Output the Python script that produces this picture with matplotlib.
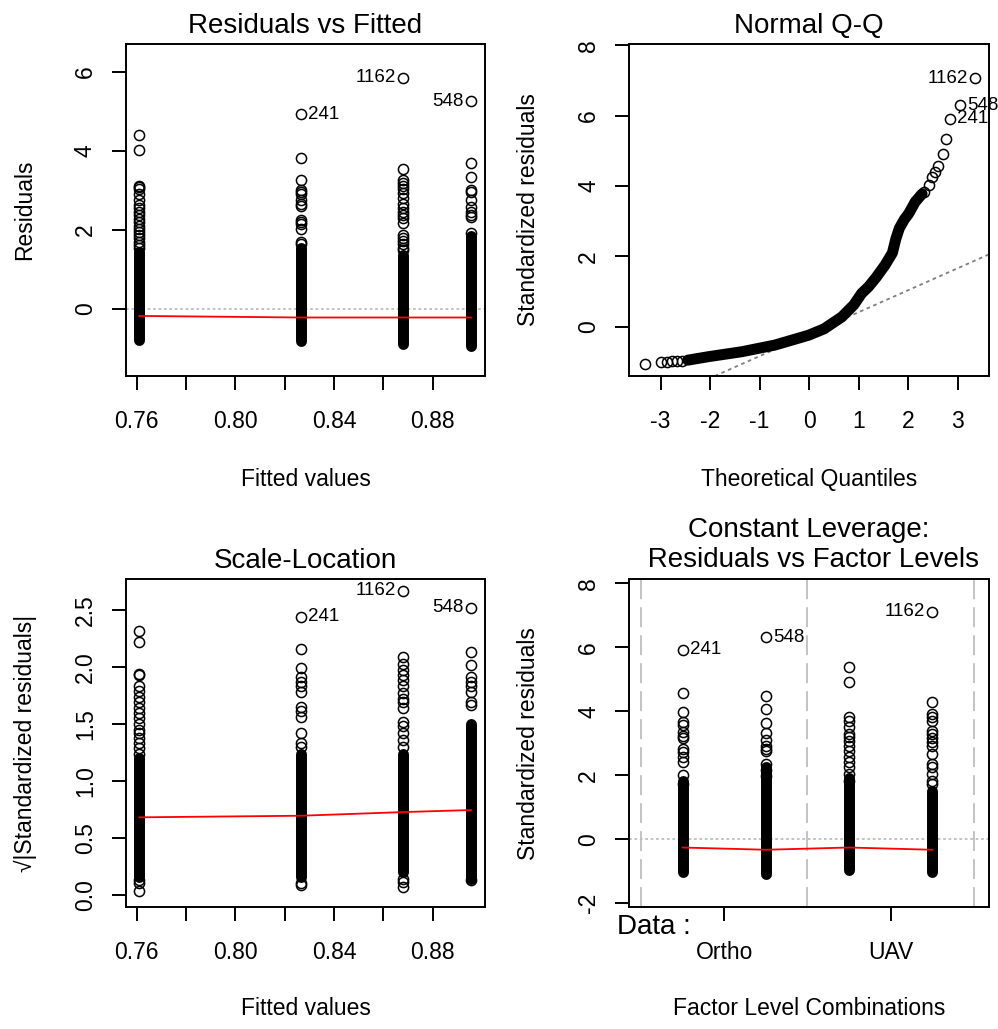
import matplotlib.pyplot as plt

plt.rcParams['font.family'] = ['Liberation Sans', 'DejaVu Sans']
plt.rcParams['axes.unicode_minus'] = False

# ---- data ----
fitted_levels = [0.7611, 0.8265, 0.8680, 0.8955]
fitted_ticks = [0.76, 0.78, 0.80, 0.82, 0.84, 0.86, 0.88]
fitted_labels = ['0.76', '', '0.80', '', '0.84', '', '0.88']

id_names = ['241', '1162', '548']

# Residuals vs Fitted
resid_lo = [-0.78, -0.82, -0.88, -0.95]
resid_hi = [1.45, 1.55, 1.35, 1.85]
resid_tail = [
    [4.41, 4.03, 3.11, 3.07, 3.04, 2.90, 2.75, 2.62, 2.55, 2.45, 2.38, 2.28, 2.20,
     2.10, 2.03, 1.95, 1.87, 1.78, 1.70, 1.62, 1.55],
    [3.81, 3.26, 3.00, 2.95, 2.90, 2.75, 2.65, 2.60, 2.25, 2.20, 2.15, 2.03, 1.70, 1.65],
    [3.54, 3.26, 3.18, 3.10, 3.02, 2.92, 2.80, 2.65, 2.55, 2.45, 2.38, 2.30, 2.16,
     1.86, 1.80, 1.72, 1.65, 1.53, 1.48],
    [3.70, 3.34, 3.00, 2.96, 2.75, 2.57, 2.45, 2.37, 2.32, 1.91],
]
resid_smooth = [-0.18, -0.22, -0.22, -0.22]
resid_id_group = [1, 2, 3]
resid_id = [4.92, 5.85, 5.25]
resid_id_side = ['right', 'left', 'left']

# Normal Q-Q
qq_band_x = [-2.45, -2.03, -1.36, -0.69, -0.01, 0.30, 0.66, 0.90, 1.06, 1.20, 1.35,
             1.53, 1.68, 1.75, 1.82, 1.92, 2.01, 2.14, 2.28]
qq_band_y = [-0.95, -0.85, -0.71, -0.52, -0.24, -0.06, 0.28, 0.62, 0.95, 1.14, 1.40,
             1.75, 2.10, 2.50, 2.80, 3.05, 3.22, 3.55, 3.78]
qq_tail_x = [-3.31, -3.00, -2.87, -2.77, -2.67, -2.57, 2.31, 2.41, 2.48, 2.54, 2.61, 2.71, 2.76]
qq_tail_y = [-1.06, -1.01, -0.99, -0.98, -0.97, -0.96, 3.84, 4.03, 4.26, 4.40, 4.57, 4.90, 5.35]
qq_id_x = [2.85, 3.35, 3.05]
qq_id_y = [5.92, 7.06, 6.30]
qq_id_side = ['right', 'left', 'right']
qq_line_intercept = -0.21
qq_line_slope = 0.625

# Scale-Location
sl_lo = [0.16, 0.16, 0.20, 0.14]
sl_hi = [1.20, 1.24, 1.24, 1.50]
sl_tail = [
    [2.32, 2.22, 1.94, 1.93, 1.83, 1.79, 1.74, 1.69, 1.64, 1.60, 1.55, 1.50, 1.45,
     1.42, 1.38, 1.33, 1.29, 1.24, 0.13, 0.10, 0.035],
    [2.16, 1.99, 1.91, 1.87, 1.83, 1.78, 1.65, 1.61, 1.56, 1.42, 1.33, 1.30, 0.10, 0.09],
    [2.09, 2.03, 1.97, 1.93, 1.89, 1.83, 1.77, 1.72, 1.69, 1.64, 1.52, 1.48, 1.42,
     1.36, 1.30, 0.14, 0.11, 0.07],
    [2.13, 2.02, 1.91, 1.87, 1.83, 1.78, 1.69, 1.67, 0.13],
]
sl_smooth = [0.680, 0.694, 0.726, 0.744]
sl_id = [2.44, 2.67, 2.52]

# Constant leverage: residuals vs factor levels
lev_pos = [1, 2, 3, 4]
lev_bounds = [0.5, 2.5, 4.5]
lev_ticks = [1.5, 3.5]
lev_labels = ['Ortho', 'UAV']
lev_lo = [-1.03, -1.08, -0.96, -1.03]
lev_hi = [1.83, 2.25, 1.90, 1.52]
lev_tail = [
    [4.58, 3.98, 3.66, 3.58, 3.34, 3.24, 3.17, 2.82, 2.72, 2.56, 2.41, 2.02, 1.73],
    [4.47, 4.08, 3.64, 3.32, 3.10, 2.93, 2.82, 2.77, 2.35, 2.15, 1.99],
    [5.38, 4.92, 3.81, 3.71, 3.50, 3.29, 3.19, 3.08, 2.93, 2.77, 2.56, 2.41, 2.25,
     2.04, 1.83],
    [4.29, 3.92, 3.83, 3.71, 3.40, 3.29, 3.17, 3.03, 2.93, 2.67, 2.35, 2.25, 2.04,
     1.83, 1.73],
]
lev_smooth = [-0.26, -0.33, -0.26, -0.33]
lev_id_group = [0, 3, 1]
lev_id = [5.93, 7.11, 6.31]
lev_id_side = ['right', 'left', 'right']

# ---- styling ----
W, H = 998, 1029
TICK_FS = 16.5
TITLE_FS = 20
ID_FS = 13.5
LW = 1.4
DENSE_LW = 7.9
MS = 7.3

fig = plt.figure(figsize=(W / 100, H / 100), dpi=100)


def make_axes(l, t, r, b):
    ax = fig.add_axes([l / W, 1 - b / H, (r - l) / W, (b - t) / H])
    for s in ax.spines.values():
        s.set_linewidth(LW)
    ax.tick_params(length=10, width=LW, labelsize=TICK_FS, direction='out')
    ax.tick_params(axis='x', pad=14.5)
    ax.tick_params(axis='y', pad=11)
    return ax


def columns(ax, xs, lo, hi, tails):
    for x, a, b, tail in zip(xs, lo, hi, tails):
        ax.plot([x, x], [a, b], color='black', lw=DENSE_LW, solid_capstyle='round')
        ax.plot([x] * len(tail), tail, 'o', mfc='none', mec='black', ms=MS, mew=1.1)


def ids(ax, xs, ys, names, sides):
    for x, y, n, s in zip(xs, ys, names, sides):
        ax.plot(x, y, 'o', mfc='none', mec='black', ms=MS, mew=1.1)
        dx = 5 if s == 'right' else -5
        ax.annotate(n, (x, y), xytext=(dx, 0), textcoords='offset points',
                    ha='left' if s == 'right' else 'right', va='center', fontsize=ID_FS)


def labels(ax, title, xlabel, ylabel, xl_y, pad=7.7):
    ax.set_title(title, fontsize=TITLE_FS, pad=pad)
    ax.set_xlabel(xlabel, fontsize=TICK_FS, va='center')
    ax.set_ylabel(ylabel, fontsize=TICK_FS, va='center')
    ax.xaxis.set_label_coords(0.5, xl_y)
    ax.yaxis.set_label_coords(-0.281, 0.5)


# 1: Residuals vs Fitted
ax1 = make_axes(126, 44, 485, 376)
ax1.axhline(0, color='#bebebe', lw=1.3, ls=(0, (1.5, 1.5)))
columns(ax1, fitted_levels, resid_lo, resid_hi, resid_tail)
ids(ax1, [fitted_levels[g] for g in resid_id_group], resid_id, id_names, resid_id_side)
ax1.plot(fitted_levels, resid_smooth, color='red', lw=1.3)
ax1.set_xlim(0.7557, 0.9012)
ax1.set_ylim(-1.70, 6.70)
ax1.set_xticks(fitted_ticks, fitted_labels)
ax1.set_yticks([0, 2, 4, 6], ['0', '2', '4', '6'], rotation=90, va='center')
labels(ax1, 'Residuals vs Fitted', 'Fitted values', 'Residuals', -0.313)

# 2: Normal Q-Q
ax2 = make_axes(629.3, 44, 989, 376)
ax2.axline((0, qq_line_intercept), slope=qq_line_slope, color='#7f7f7f', lw=1.3,
           ls=(0, (2, 2)))
ax2.plot(qq_band_x, qq_band_y, color='black', lw=DENSE_LW, solid_capstyle='round',
         solid_joinstyle='round')
ax2.plot(qq_tail_x, qq_tail_y, 'o', mfc='none', mec='black', ms=MS, mew=1.1)
ids(ax2, qq_id_x, qq_id_y, id_names, qq_id_side)
ax2.set_xlim(-3.63, 3.63)
ax2.set_ylim(-1.40, 8.04)
ax2.set_xticks([-3, -2, -1, 0, 1, 2, 3])
ax2.set_yticks([0, 2, 4, 6, 8], ['0', '2', '4', '6', '8'], rotation=90, va='center')
labels(ax2, 'Normal Q-Q', 'Theoretical Quantiles', 'Standardized residuals', -0.313)

# 3: Scale-Location
ax3 = make_axes(126, 579.3, 485, 907.3)
columns(ax3, fitted_levels, sl_lo, sl_hi, sl_tail)
ids(ax3, [fitted_levels[g] for g in resid_id_group], sl_id, id_names, resid_id_side)
ax3.plot(fitted_levels, sl_smooth, color='red', lw=1.3)
ax3.set_xlim(0.7557, 0.9012)
ax3.set_ylim(-0.11, 2.77)
ax3.set_xticks(fitted_ticks, fitted_labels)
ax3.set_yticks([0, 0.5, 1.0, 1.5, 2.0, 2.5], ['0.0', '0.5', '1.0', '1.5', '2.0', '2.5'],
               rotation=90, va='center')
labels(ax3, 'Scale-Location', 'Fitted values', '\u221a|Standardized residuals|', -0.308,
       pad=8)

# 4: Constant Leverage
ax4 = make_axes(629.3, 579.3, 989, 907.3)
for xb in lev_bounds:
    ax4.axvline(xb, color='#bebebe', lw=1.3, ls=(0, (11, 4.5)))
ax4.axhline(0, color='#bebebe', lw=1.3, ls=(0, (1.5, 1.5)))
columns(ax4, lev_pos, lev_lo, lev_hi, lev_tail)
ids(ax4, [lev_pos[g] for g in lev_id_group], lev_id, id_names, lev_id_side)
ax4.plot(lev_pos, lev_smooth, color='red', lw=1.3)
ax4.set_xlim(0.36, 4.68)
ax4.set_ylim(-2.13, 8.13)
ax4.set_xticks(lev_ticks, lev_labels)
ax4.set_yticks([-2, 0, 2, 4, 6, 8], ['-2', '0', '2', '4', '6', '8'], rotation=90, va='center')
labels(ax4, 'Constant Leverage:\n Residuals vs Factor Levels', 'Factor Level Combinations',
       'Standardized residuals', -0.308, pad=9)
ax4.text(-0.035, -0.059, 'Data :', transform=ax4.transAxes, ha='left', va='center',
         fontsize=TITLE_FS)

fig.savefig('out.png', dpi=100)
